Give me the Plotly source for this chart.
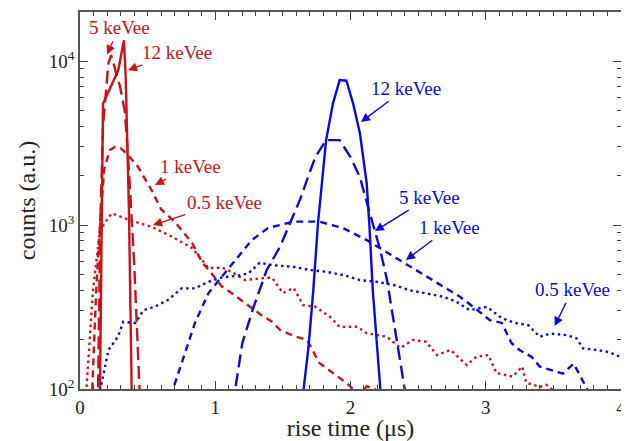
import math
import plotly.graph_objects as go

RED = "#c81418"
BLUE = "#0a0adc"
FONT = "Liberation Serif"

# ---- data (rise time in µs, counts in a.u.) ----
red12_x = [0.145, 0.16, 0.17, 0.283, 0.325, 0.338, 0.35, 0.362, 0.382, 0.39]
red12_y = [60, 1200, 5500, 8800, 13400, 8000, 3200, 1230, 100, 60]

red5_x = [0.13, 0.15, 0.17, 0.197, 0.21, 0.23, 0.26, 0.296, 0.33, 0.345, 0.37, 0.40, 0.44, 0.45]
red5_y = [60, 1000, 4000, 7000, 9700, 10900, 9000, 7000, 5000, 3500, 1650, 600, 100, 60]

red1_x = [0.08, 0.12, 0.15, 0.18, 0.22, 0.26, 0.30, 0.35, 0.43, 0.53, 0.60, 0.70, 0.83, 0.90,
          0.97, 1.05, 1.12, 1.24, 1.34, 1.42, 1.48, 1.60, 1.68, 1.77, 1.87, 1.97, 2.02, 2.07,
          2.12, 2.18, 2.22]
red1_y = [60, 400, 1100, 2200, 2870, 3000, 2950, 2700, 2260, 1630, 1250, 1050, 776, 597,
          510, 421, 385, 325, 283, 257, 229, 208, 199, 144, 125, 109, 100, 92,
          104, 100, 80]

red05_x = [0.04, 0.074, 0.096, 0.148, 0.234, 0.37, 0.53, 0.68, 0.83, 0.95, 1.05, 1.12, 1.22,
           1.34, 1.42, 1.50, 1.58, 1.65, 1.74, 1.85, 1.92, 2.05, 2.12, 2.27, 2.37, 2.46, 2.56,
           2.64, 2.74, 2.86, 2.93, 3.02, 3.08, 3.20, 3.27, 3.30, 3.40, 3.45, 3.52]
red05_y = [80, 200, 400, 930, 1180, 1070, 975, 850, 724, 547, 550, 519, 462,
           474, 478, 385, 413, 325, 318, 275, 239, 240, 219, 208, 178, 199, 194,
           161, 173, 140, 157, 161, 125, 119, 137, 109, 103, 106, 95]

blue12_x = [1.64, 1.69, 1.725, 1.76, 1.82, 1.87, 1.92, 1.97, 2.02, 2.07, 2.12, 2.14, 2.165,
            2.19, 2.22, 2.23]
blue12_y = [80, 181, 400, 1030, 3300, 5500, 7660, 7600, 5500, 3630, 1800, 1000, 400,
            200, 100, 80]

blue5_x = [1.13, 1.16, 1.2, 1.28, 1.38, 1.48, 1.56, 1.63, 1.68, 1.74, 1.82, 1.92, 2.0, 2.07,
           2.13, 2.22, 2.27, 2.32, 2.39, 2.41]
blue5_y = [80, 119, 190, 310, 530, 740, 1050, 1450, 1900, 2600, 3300, 3300, 2600, 1960,
           1290, 705, 462, 253, 109, 90]

blue1_x = [0.67, 0.75, 0.85, 0.95, 1.05, 1.17, 1.27, 1.39, 1.45, 1.58, 1.77, 1.95, 2.12, 2.24,
           2.37, 2.49, 2.61, 2.71, 2.81, 2.91, 3.03, 3.12, 3.19, 3.25, 3.34, 3.40, 3.475,
           3.57, 3.65, 3.70, 3.75, 3.77]
blue1_y = [90, 144, 253, 385, 484, 641, 810, 960, 990, 1050, 1050, 955, 810, 705,
           612, 532, 462, 410, 365, 316, 263, 253, 191, 173, 157, 137, 131,
           124, 143, 119, 100, 90]

blue05_x = [0.14, 0.21, 0.28, 0.32, 0.41, 0.47, 0.55, 0.65, 0.75, 0.85, 0.95, 1.05, 1.15,
            1.245, 1.33, 1.42, 1.58, 1.70, 1.82, 1.95, 2.07, 2.19, 2.32, 2.44, 2.56, 2.69,
            2.785, 2.88, 3.01, 3.105, 3.155, 3.23, 3.315, 3.40, 3.475, 3.60, 3.67, 3.72,
            3.82, 3.895, 3.97, 4.0]
blue05_y = [90, 173, 208, 257, 253, 303, 317, 349, 411, 411, 451, 479, 489,
            507, 590, 570, 556, 532, 519, 495, 462, 451, 431, 400, 383, 365,
            340, 303, 317, 276, 263, 252, 245, 208, 218, 213, 204, 177,
            173, 169, 161, 155]

x_tickvals = [0, 1, 2, 3, 4]
x_ticktext = ["0", "1", "2", "3", "4"]
y_tickvals = [100, 1000, 10000]
y_ticktext = ["10<sup>2</sup>", "10<sup>3</sup>", "10<sup>4</sup>"]

# annotation: (label, colour, head x, head y, text dx px, text dy px)
ann_labels = ["5 keVee", "12 keVee", "1 keVee", "0.5 keVee",
              "12 keVee", "5 keVee", "1 keVee", "0.5 keVee"]
ann_colors = [RED, RED, RED, RED, BLUE, BLUE, BLUE, BLUE]
ann_x = [0.20, 0.355, 0.555, 0.54, 2.078, 2.18, 2.41, 3.51]
ann_y = [11000, 8810, 1755, 1000, 4250, 919, 612, 242]
ann_ax = [12, 49, 35, 71, 45, 55, 44, 18]
ann_ay = [-27, -18, -19, -23, -34, -34, -33, -37]

DOT = "2.5px,3.5px"
SDASH = "7px,5px"
LDASH = "13px,6px"
LW = 2.4

fig = go.Figure()
series = [
    (red05_x, red05_y, RED, DOT),
    (red1_x, red1_y, RED, SDASH),
    (red5_x, red5_y, RED, LDASH),
    (red12_x, red12_y, RED, "solid"),
    (blue05_x, blue05_y, BLUE, DOT),
    (blue1_x, blue1_y, BLUE, SDASH),
    (blue5_x, blue5_y, BLUE, LDASH),
    (blue12_x, blue12_y, BLUE, "solid"),
]
for xs, ys, c, d in series:
    fig.add_trace(go.Scatter(x=xs, y=ys, mode="lines",
                             line=dict(color=c, width=LW, dash=d),
                             showlegend=False, hoverinfo="skip"))

for lab, c, x, y, ax, ay in zip(ann_labels, ann_colors, ann_x, ann_y, ann_ax, ann_ay):
    fig.add_annotation(x=x, y=math.log10(y), text=lab, showarrow=True,
                       ax=ax, ay=ay, arrowhead=2, arrowsize=1.3, arrowwidth=1.4,
                       arrowcolor=c, standoff=0, startstandoff=2,
                       font=dict(family=FONT, size=19, color=c))

minor_y = [v * 10 ** e for e in (2, 3) for v in range(2, 10)] + [20000]

# the page body adds an 8px offset, so the figure is 8px smaller and margins shifted
fig.update_layout(
    width=621, height=433,
    margin=dict(l=72, r=8, t=4, b=52),
    paper_bgcolor="white", plot_bgcolor="white",
    font=dict(family=FONT, size=18, color="#222"),
)
fig.update_xaxes(
    range=[0, 4.0005], tickmode="array", tickvals=x_tickvals, ticktext=x_ticktext,
    ticks="inside", ticklen=8, tickwidth=1.2, ticklabeloverflow="allow",
    tickcolor="#444", showline=True, linecolor="#555", linewidth=1.5, mirror="ticks",
    showgrid=False, zeroline=False, automargin=False,
    minor=dict(tickmode="linear", tick0=0, dtick=0.1, ticks="inside", ticklen=4,
               tickwidth=1, tickcolor="#444", showgrid=False),
    tickfont=dict(family=FONT, size=19, color="#222"),
    title=dict(text="rise time (μs)", font=dict(family=FONT, size=24, color="#222"), standoff=2),
)
fig.update_yaxes(
    type="log", range=[2, 4.3], tickmode="array", tickvals=y_tickvals, ticktext=y_ticktext,
    ticks="inside", ticklen=8, tickwidth=1.2, tickcolor="#444",
    showline=True, linecolor="#555", linewidth=1.5, mirror="ticks",
    showgrid=False, zeroline=False, automargin=False,
    minor=dict(tickmode="array", tickvals=minor_y, ticks="inside", ticklen=4,
               tickwidth=1, tickcolor="#444", showgrid=False),
    tickfont=dict(family=FONT, size=19, color="#222"),
    title=dict(text="counts (a.u.)", font=dict(family=FONT, size=24, color="#222"), standoff=6),
)

fig.write_html("out.html")
